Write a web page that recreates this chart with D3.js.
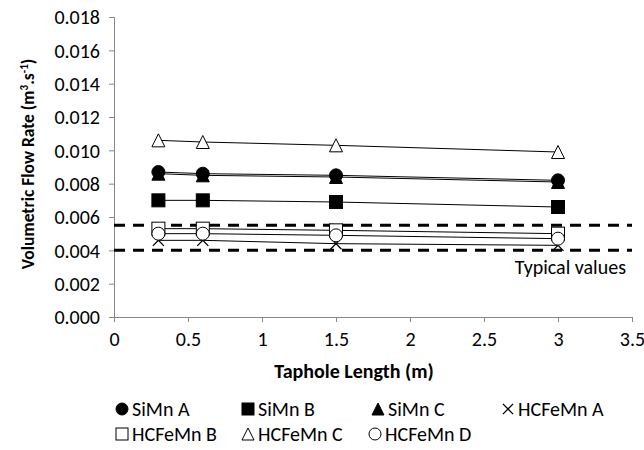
<!DOCTYPE html>
<html><head><meta charset="utf-8">
<script src="https://cdn.jsdelivr.net/npm/d3@7"></script>
<style>
html,body{margin:0;padding:0;background:#fff;}
text{font-family:Carlito,Calibri,Lato,sans-serif;fill:#000;}
</style></head><body>
<svg id="c" width="644" height="450"></svg>
<script>
const lengths = [0.3, 0.6, 1.5, 3];
const seriesNames = ["SiMn A","SiMn B","SiMn C","HCFeMn A","HCFeMn B","HCFeMn C","HCFeMn D"];
const siMnA = [0.0087, 0.0086, 0.0085, 0.0082];
const siMnB = [0.0070, 0.0070, 0.0069, 0.0066];
const siMnC = [0.0086, 0.0085, 0.0084, 0.0081];
const hcA = [0.0046, 0.0046, 0.0044, 0.0043];
const hcB = [0.0053, 0.0053, 0.0052, 0.0050];
const hcC = [0.0106, 0.0105, 0.0103, 0.0099];
const hcD = [0.0050, 0.0050, 0.0049, 0.0047];
const markerTypes = ["circleF","squareF","triangleF","cross","squareO","triangleO","circleO"];
const typicalBounds = [0.0055, 0.0040];
const typicalLabel = "Typical values";
const xTicks = [0,0.5,1,1.5,2,2.5,3,3.5];
const yTicks = [0,0.002,0.004,0.006,0.008,0.010,0.012,0.014,0.016,0.018];
const allSeries = [siMnA, siMnB, siMnC, hcA, hcB, hcC, hcD];

const svg = d3.select("#c");
const x = d3.scaleLinear().domain([0,3.5]).range([114,632]);
const y = d3.scaleLinear().domain([0,0.018]).range([317,17]);
const axisColor = "#868686";

// axes
const gx = svg.append("g").attr("transform","translate(0,317)")
  .call(d3.axisBottom(x).tickValues(xTicks).tickSize(5).tickPadding(10).tickFormat(d=>d3.format("")(d)));
const gy = svg.append("g").attr("transform","translate(114,0)")
  .call(d3.axisLeft(y).tickValues(yTicks).tickSize(5).tickPadding(9).tickFormat(d3.format(".3f")));
[gx,gy].forEach(g=>{
  g.select(".domain").attr("stroke",axisColor).attr("stroke-width",1);
  g.selectAll(".tick line").attr("stroke",axisColor);
  g.selectAll(".tick text").style("font-size","20px").attr("fill","#000");
});
gy.selectAll(".tick text").attr("dy","0.34em");

// typical values dashed lines
svg.selectAll(".typ").data(typicalBounds).join("line")
  .attr("x1",x(0)).attr("x2",x(3.5))
  .attr("y1",d=>y(d)).attr("y2",d=>y(d))
  .attr("stroke","#000").attr("stroke-width",3).attr("stroke-dasharray","11,8");
svg.append("text").attr("x",626).attr("y",y(typicalBounds[1])+24).attr("text-anchor","end")
  .style("font-size","20px").text(typicalLabel);

function drawMarker(g, type, cx, cy, s){
  const h = s/2;
  if(type==="circleF"||type==="circleO"){
    g.append("circle").attr("cx",cx).attr("cy",cy).attr("r",h)
      .attr("fill",type==="circleF"?"#000":"#fff").attr("stroke","#000").attr("stroke-width",1);
  } else if(type==="squareF"||type==="squareO"){
    g.append("rect").attr("x",cx-h).attr("y",cy-h).attr("width",s).attr("height",s)
      .attr("fill",type==="squareF"?"#000":"#fff").attr("stroke","#000").attr("stroke-width",1);
  } else if(type==="triangleF"||type==="triangleO"){
    g.append("path").attr("d",`M${cx},${cy-h}L${cx+h},${cy+h}L${cx-h},${cy+h}Z`)
      .attr("fill",type==="triangleF"?"#000":"#fff").attr("stroke","#000").attr("stroke-width",1);
  } else if(type==="cross"){
    const k=h*0.85;
    g.append("path").attr("d",`M${cx-k},${cy-k}L${cx+k},${cy+k}M${cx-k},${cy+k}L${cx+k},${cy-k}`)
      .attr("stroke","#000").attr("stroke-width",1.3).attr("fill","none");
  }
}

const line = d3.line().x((d,i)=>x(lengths[i])).y(d=>y(d));
allSeries.forEach((vals,si)=>{
  const g = svg.append("g");
  g.append("path").attr("d",line(vals)).attr("fill","none").attr("stroke","#000").attr("stroke-width",1);
  vals.forEach((v,i)=>drawMarker(g, markerTypes[si], x(lengths[i]), y(v), 13));
});

// axis titles
svg.append("text").attr("x",354).attr("y",378).attr("text-anchor","middle")
  .style("font-size","20px").style("font-weight","bold").text("Taphole Length (m)");
const yt = svg.append("text").attr("transform","translate(34,164) rotate(-90)").attr("text-anchor","middle")
  .style("font-size","17.5px").style("font-weight","bold");
yt.append("tspan").text("Volumetric Flow Rate (m");
yt.append("tspan").attr("dy",-6).style("font-size","11px").text("3");
yt.append("tspan").attr("dy",6).text(".s");
yt.append("tspan").attr("dy",-6).style("font-size","11px").text("-1");
yt.append("tspan").attr("dy",6).text(")");

// legend
const legPos = [[122,409],[248,409],[378,409],[508,409],[122,434],[248,434],[375,434]];
seriesNames.forEach((n,i)=>{
  const g = svg.append("g");
  const [lx,ly] = legPos[i];
  drawMarker(g, markerTypes[i], lx, ly, 12);
  g.append("text").attr("x",lx+10).attr("y",ly).attr("dy","0.35em").style("font-size","20px").text(n);
});
</script>
</body></html>
